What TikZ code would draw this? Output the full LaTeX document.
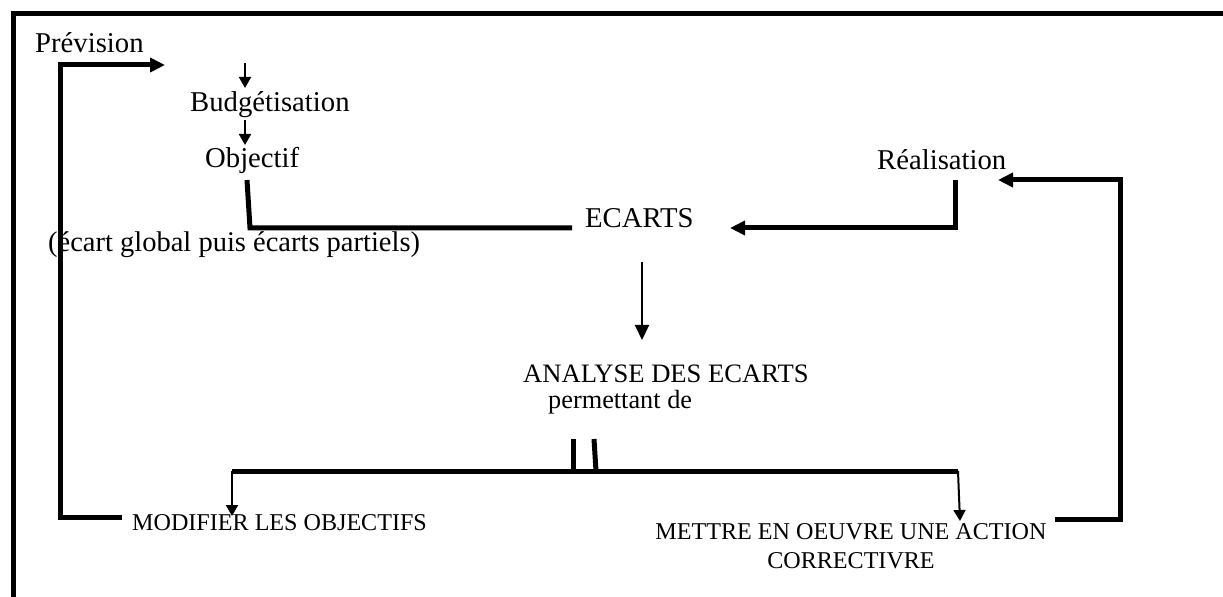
\documentclass[tikz,border=0pt]{standalone}
\usepackage{fontspec}
\setmainfont{Liberation Serif}
\usetikzlibrary{arrows.meta}
\begin{document}
\begin{tikzpicture}[x=1bp,y=-1bp,
  big/.style={inner sep=0pt,anchor=base west,font=\fontsize{28.8}{33}\selectfont},
  small/.style={inner sep=0pt,anchor=base west,font=\fontsize{24.2}{28}\selectfont},
  thickline/.style={line width=5bp,line join=miter},
  thinline/.style={line width=2bp},
  bighead/.style={-{Triangle[length=15bp,width=14bp]}},
  smallhead/.style={-{Triangle[length=11bp,width=12bp]}}
]
\useasboundingbox (0,0) rectangle (1223,597);
% frame (top and left only)
\draw[line width=5bp] (13,597) -- (13,14) -- (1223,14);

% texts
\node[big] (prev) at (35,53) {Prévision};
\node[big] (budg) at (190,112) {Budgétisation};
\node[big] (obj) at (205,168) {Objectif};
\node[big] (real) at (877,170) {Réalisation};
\node[big] (ecarts) at (585,228) {ECARTS};
\node[big,font=\fontsize{28.6}{33}\selectfont] (glob) at (48,252) {(écart global puis écarts partiels)};
\node[big,font=\fontsize{26.7}{30}\selectfont] (analyse) at (523,382) {ANALYSE DES ECARTS};
\node[big,font=\fontsize{26.4}{30}\selectfont] (perm) at (548,408) {permettant de};
\node[small] (modif) at (132,530) {MODIFIER LES OBJECTIFS};
\node[small,anchor=base] (mettreA) at (851,539) {METTRE EN OEUVRE UNE ACTION};
\node[small,anchor=base] (mettreB) at (851,568) {CORRECTIVRE};

% coordinates
\coordinate (lA) at (122,517);
\coordinate (lB) at (60,517);
\coordinate (lC) at (60,65);
\coordinate (lD) at (165,65);
\coordinate (a1s) at (245,63);
\coordinate (a1e) at (245,88);
\coordinate (a2s) at (245,120);
\coordinate (a2e) at (245,145);
\coordinate (oA) at (247,180);
\coordinate (oB) at (250,228);
\coordinate (oC) at (572,228);
\coordinate (rA) at (955,180);
\coordinate (rB) at (955,228);
\coordinate (rC) at (730,228);
\coordinate (eA) at (642,262);
\coordinate (eB) at (642,340);
\coordinate (t1a) at (573,439);
\coordinate (t1b) at (573,471);
\coordinate (t2a) at (594,439);
\coordinate (t2b) at (596,471);
\coordinate (bL) at (232,471);
\coordinate (bR) at (958,471);
\coordinate (bLt) at (232,516);
\coordinate (bRt) at (960,521);
\coordinate (mA) at (1055,519);
\coordinate (mB) at (1120,519);
\coordinate (mC) at (1120,180);
\coordinate (mD) at (998,180);

% connectors
\draw[thickline,bighead] (lA) -- (lB) -- (lC) -- (lD);
\draw[thinline,smallhead] (a1s) -- (a1e);
\draw[thinline,smallhead] (a2s) -- (a2e);
\draw[thickline] (oA) -- (oB) -- (oC);
\draw[thickline,bighead] (rA) -- (rB) -- (rC);
\draw[thinline,bighead] (eA) -- (eB);
\draw[thickline] (t1a) -- (t1b);
\draw[thickline] (t2a) -- (t2b);
\draw[thickline] (bL) -- (bR);
\draw[thinline,smallhead] (bL) -- (bLt);
\draw[thinline,smallhead] (bR) -- (bRt);
\draw[thickline,bighead] (mA) -- (mB) -- (mC) -- (mD);
\end{tikzpicture}
\end{document}
